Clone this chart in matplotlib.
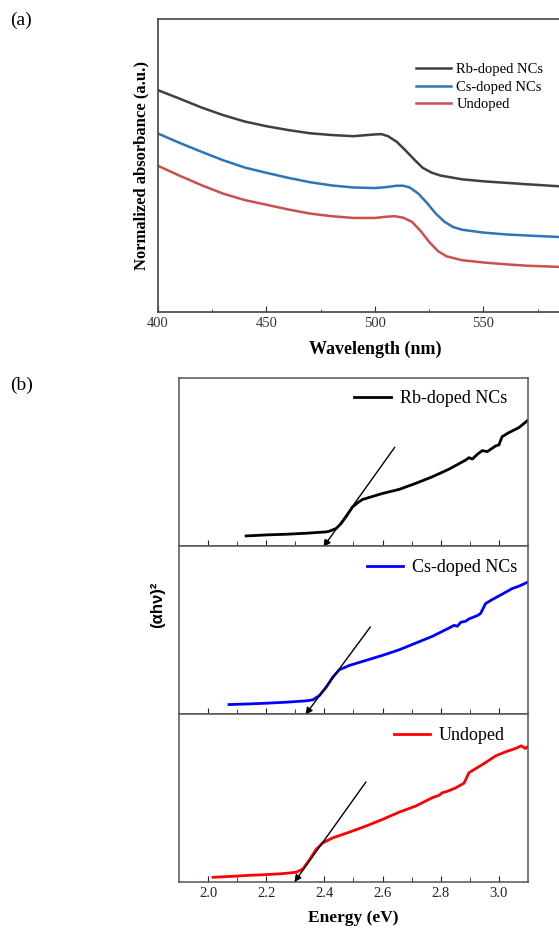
import matplotlib
matplotlib.use("Agg")
import matplotlib.pyplot as plt

plt.rcParams['font.family'] = ['Liberation Serif', 'DejaVu Serif']

# (a) absorbance spectra
wl_rb = [400, 410, 420, 430, 440, 450, 460, 470, 480, 490, 495, 500, 503, 506, 510,
         514, 518, 522, 526, 530, 540, 550, 560, 570, 585, 600]
abs_rb = [0.757, 0.728, 0.698, 0.672, 0.650, 0.634, 0.621, 0.610, 0.604, 0.600, 0.603,
          0.606, 0.607, 0.600, 0.581, 0.552, 0.521, 0.492, 0.476, 0.466, 0.453, 0.446,
          0.441, 0.436, 0.429, 0.424]
wl_cs = [400, 410, 420, 430, 440, 450, 460, 470, 480, 490, 500, 505, 510, 513, 516,
         520, 524, 528, 532, 536, 540, 550, 560, 570, 585, 600]
abs_cs = [0.609, 0.577, 0.547, 0.518, 0.493, 0.475, 0.458, 0.443, 0.432, 0.425, 0.423,
          0.426, 0.431, 0.431, 0.425, 0.404, 0.372, 0.336, 0.308, 0.290, 0.281, 0.271,
          0.265, 0.261, 0.256, 0.252]
wl_un = [400, 410, 420, 430, 440, 450, 460, 470, 480, 490, 500, 505, 509, 513, 517,
         521, 525, 529, 533, 540, 550, 560, 570, 585, 600]
abs_un = [0.499, 0.465, 0.433, 0.404, 0.382, 0.366, 0.350, 0.336, 0.327, 0.321, 0.321,
          0.325, 0.327, 0.322, 0.308, 0.277, 0.239, 0.208, 0.190, 0.177, 0.169, 0.163,
          0.158, 0.154, 0.150]

# (b) Tauc plots
e_rb = [2.131, 2.200, 2.269, 2.337, 2.406, 2.417, 2.440, 2.457, 2.474, 2.497, 2.514,
        2.531, 2.600, 2.657, 2.714, 2.771, 2.829, 2.886, 2.897, 2.909, 2.926, 2.943,
        2.960, 2.977, 2.989, 3.000, 3.011, 3.034, 3.069, 3.097]
t_rb = [0.060, 0.066, 0.070, 0.076, 0.084, 0.088, 0.104, 0.133, 0.173, 0.233, 0.257,
        0.277, 0.313, 0.337, 0.373, 0.412, 0.458, 0.512, 0.526, 0.518, 0.546, 0.568,
        0.562, 0.582, 0.596, 0.602, 0.651, 0.675, 0.705, 0.745]
e_cs = [2.072, 2.143, 2.200, 2.269, 2.337, 2.360, 2.383, 2.406, 2.429, 2.451, 2.486,
        2.543, 2.600, 2.657, 2.714, 2.771, 2.829, 2.846, 2.857, 2.869, 2.886, 2.897,
        2.909, 2.926, 2.937, 2.954, 2.977, 3.011, 3.046, 3.069, 3.097]
t_cs = [0.056, 0.060, 0.064, 0.070, 0.078, 0.084, 0.110, 0.159, 0.219, 0.263, 0.289,
        0.319, 0.349, 0.382, 0.422, 0.462, 0.512, 0.528, 0.522, 0.546, 0.552, 0.566,
        0.574, 0.586, 0.598, 0.657, 0.681, 0.713, 0.747, 0.761, 0.783]
e_un = [2.017, 2.086, 2.143, 2.200, 2.257, 2.303, 2.326, 2.349, 2.371, 2.394, 2.429,
        2.486, 2.543, 2.600, 2.657, 2.714, 2.771, 2.794, 2.806, 2.823, 2.840, 2.851,
        2.863, 2.880, 2.897, 2.920, 2.954, 2.989, 3.023, 3.057, 3.077, 3.091, 3.097]
t_un = [0.028, 0.034, 0.040, 0.044, 0.050, 0.058, 0.078, 0.133, 0.193, 0.233, 0.263,
        0.297, 0.333, 0.373, 0.416, 0.452, 0.502, 0.516, 0.532, 0.540, 0.552, 0.560,
        0.572, 0.588, 0.651, 0.675, 0.711, 0.751, 0.775, 0.795, 0.811, 0.795, 0.803]

# tangent lines: (start E, start y, end E, end y)
tangents = [(2.642, 0.588, 2.397, -0.005),
            (2.558, 0.518, 2.335, -0.004),
            (2.543, 0.596, 2.297, 0.0)]

fig = plt.figure(figsize=(5.59, 9.30), dpi=100)

# ---- panel (a)
ax = fig.add_axes([0.2826, 0.6645, 0.7764, 0.3151])
ax.plot(wl_rb, abs_rb, color='#404040', lw=1.8, label='Rb-doped NCs')
ax.plot(wl_cs, abs_cs, color='#2e75b6', lw=1.8, label='Cs-doped NCs')
ax.plot(wl_un, abs_un, color='#c9504c', lw=1.8, label='Undoped')
ax.set_xlim(400, 600)
ax.set_ylim(0, 1)
ax.set_xticks([400, 450, 500, 550])
ax.set_xticks([425, 475, 525, 575], minor=True)
ax.set_yticks([])
ax.tick_params(axis='x', which='both', direction='in', labelsize=10.5, colors='#333333')
ax.tick_params(axis='x', which='major', length=4.5)
ax.tick_params(axis='x', which='minor', length=2.5)
for s in ax.spines.values():
    s.set_color('#444444')
    s.set_linewidth(1.2)
ax.set_xlabel('Wavelength (nm)', fontsize=13, fontweight='bold', labelpad=8)
ax.set_ylabel('Normalized absorbance (a.u.)', fontsize=12, fontweight='bold', labelpad=6)
ax.legend(loc='upper left', bbox_to_anchor=(0.58, 0.87), frameon=False, fontsize=10.5,
          handlelength=2.4, handletextpad=0.4, labelspacing=0.3, borderaxespad=0)
fig.text(0.018, 0.978, '(a)', fontsize=14, va='center')

# ---- panel (b)
bottoms = [0.4129, 0.2323, 0.0516]
series = [(e_rb, t_rb, 'black', 'Rb-doped NCs', (0.96, 0.97)),
          (e_cs, t_cs, '#0000ff', 'Cs-doped NCs', (0.989, 0.965)),
          (e_un, t_un, '#ff0000', 'Undoped', (0.954, 0.965))]
axes_b = []
for i, (x, y, c, lab, anchor) in enumerate(series):
    axb = fig.add_axes([0.3202, bottoms[i], 0.6243, 0.1806])
    axb.plot(x, y, color=c, lw=2, label=lab)
    x0, y0, x1, y1 = tangents[i]
    axb.annotate('', xy=(x1, y1), xytext=(x0, y0), annotation_clip=False,
                 arrowprops=dict(arrowstyle='-|>', color='black', lw=1,
                                 mutation_scale=10, shrinkA=0, shrinkB=0))
    axb.set_xlim(1.9, 3.1)
    axb.set_ylim(0, 1)
    axb.set_yticks([])
    axb.set_xticks([2.0, 2.2, 2.4, 2.6, 2.8, 3.0])
    axb.set_xticks([2.1, 2.3, 2.5, 2.7, 2.9], minor=True)
    axb.tick_params(axis='x', which='both', direction='in', labelsize=10.5,
                    colors='#222222')
    axb.tick_params(axis='x', which='major', length=4.5)
    axb.tick_params(axis='x', which='minor', length=3.5)
    if i < 2:
        axb.tick_params(axis='x', labelbottom=False)
    for s in axb.spines.values():
        s.set_color('#555555')
        s.set_linewidth(1.1)
    axb.legend(loc='upper right', bbox_to_anchor=anchor, frameon=False, fontsize=13,
               handlelength=2.0, handletextpad=0.5, borderaxespad=0)
    axes_b.append(axb)

axes_b[2].set_xlabel('Energy (eV)', fontsize=12.5, fontweight='bold', labelpad=7)
axes_b[1].set_ylabel('(αhν)²', fontsize=12, fontweight='bold',
                     family=['Liberation Sans', 'DejaVu Sans'])
axes_b[1].yaxis.set_label_coords(-0.04, 0.65)
fig.text(0.018, 0.586, '(b)', fontsize=14, va='center')

fig.savefig('out.png', dpi=100)
